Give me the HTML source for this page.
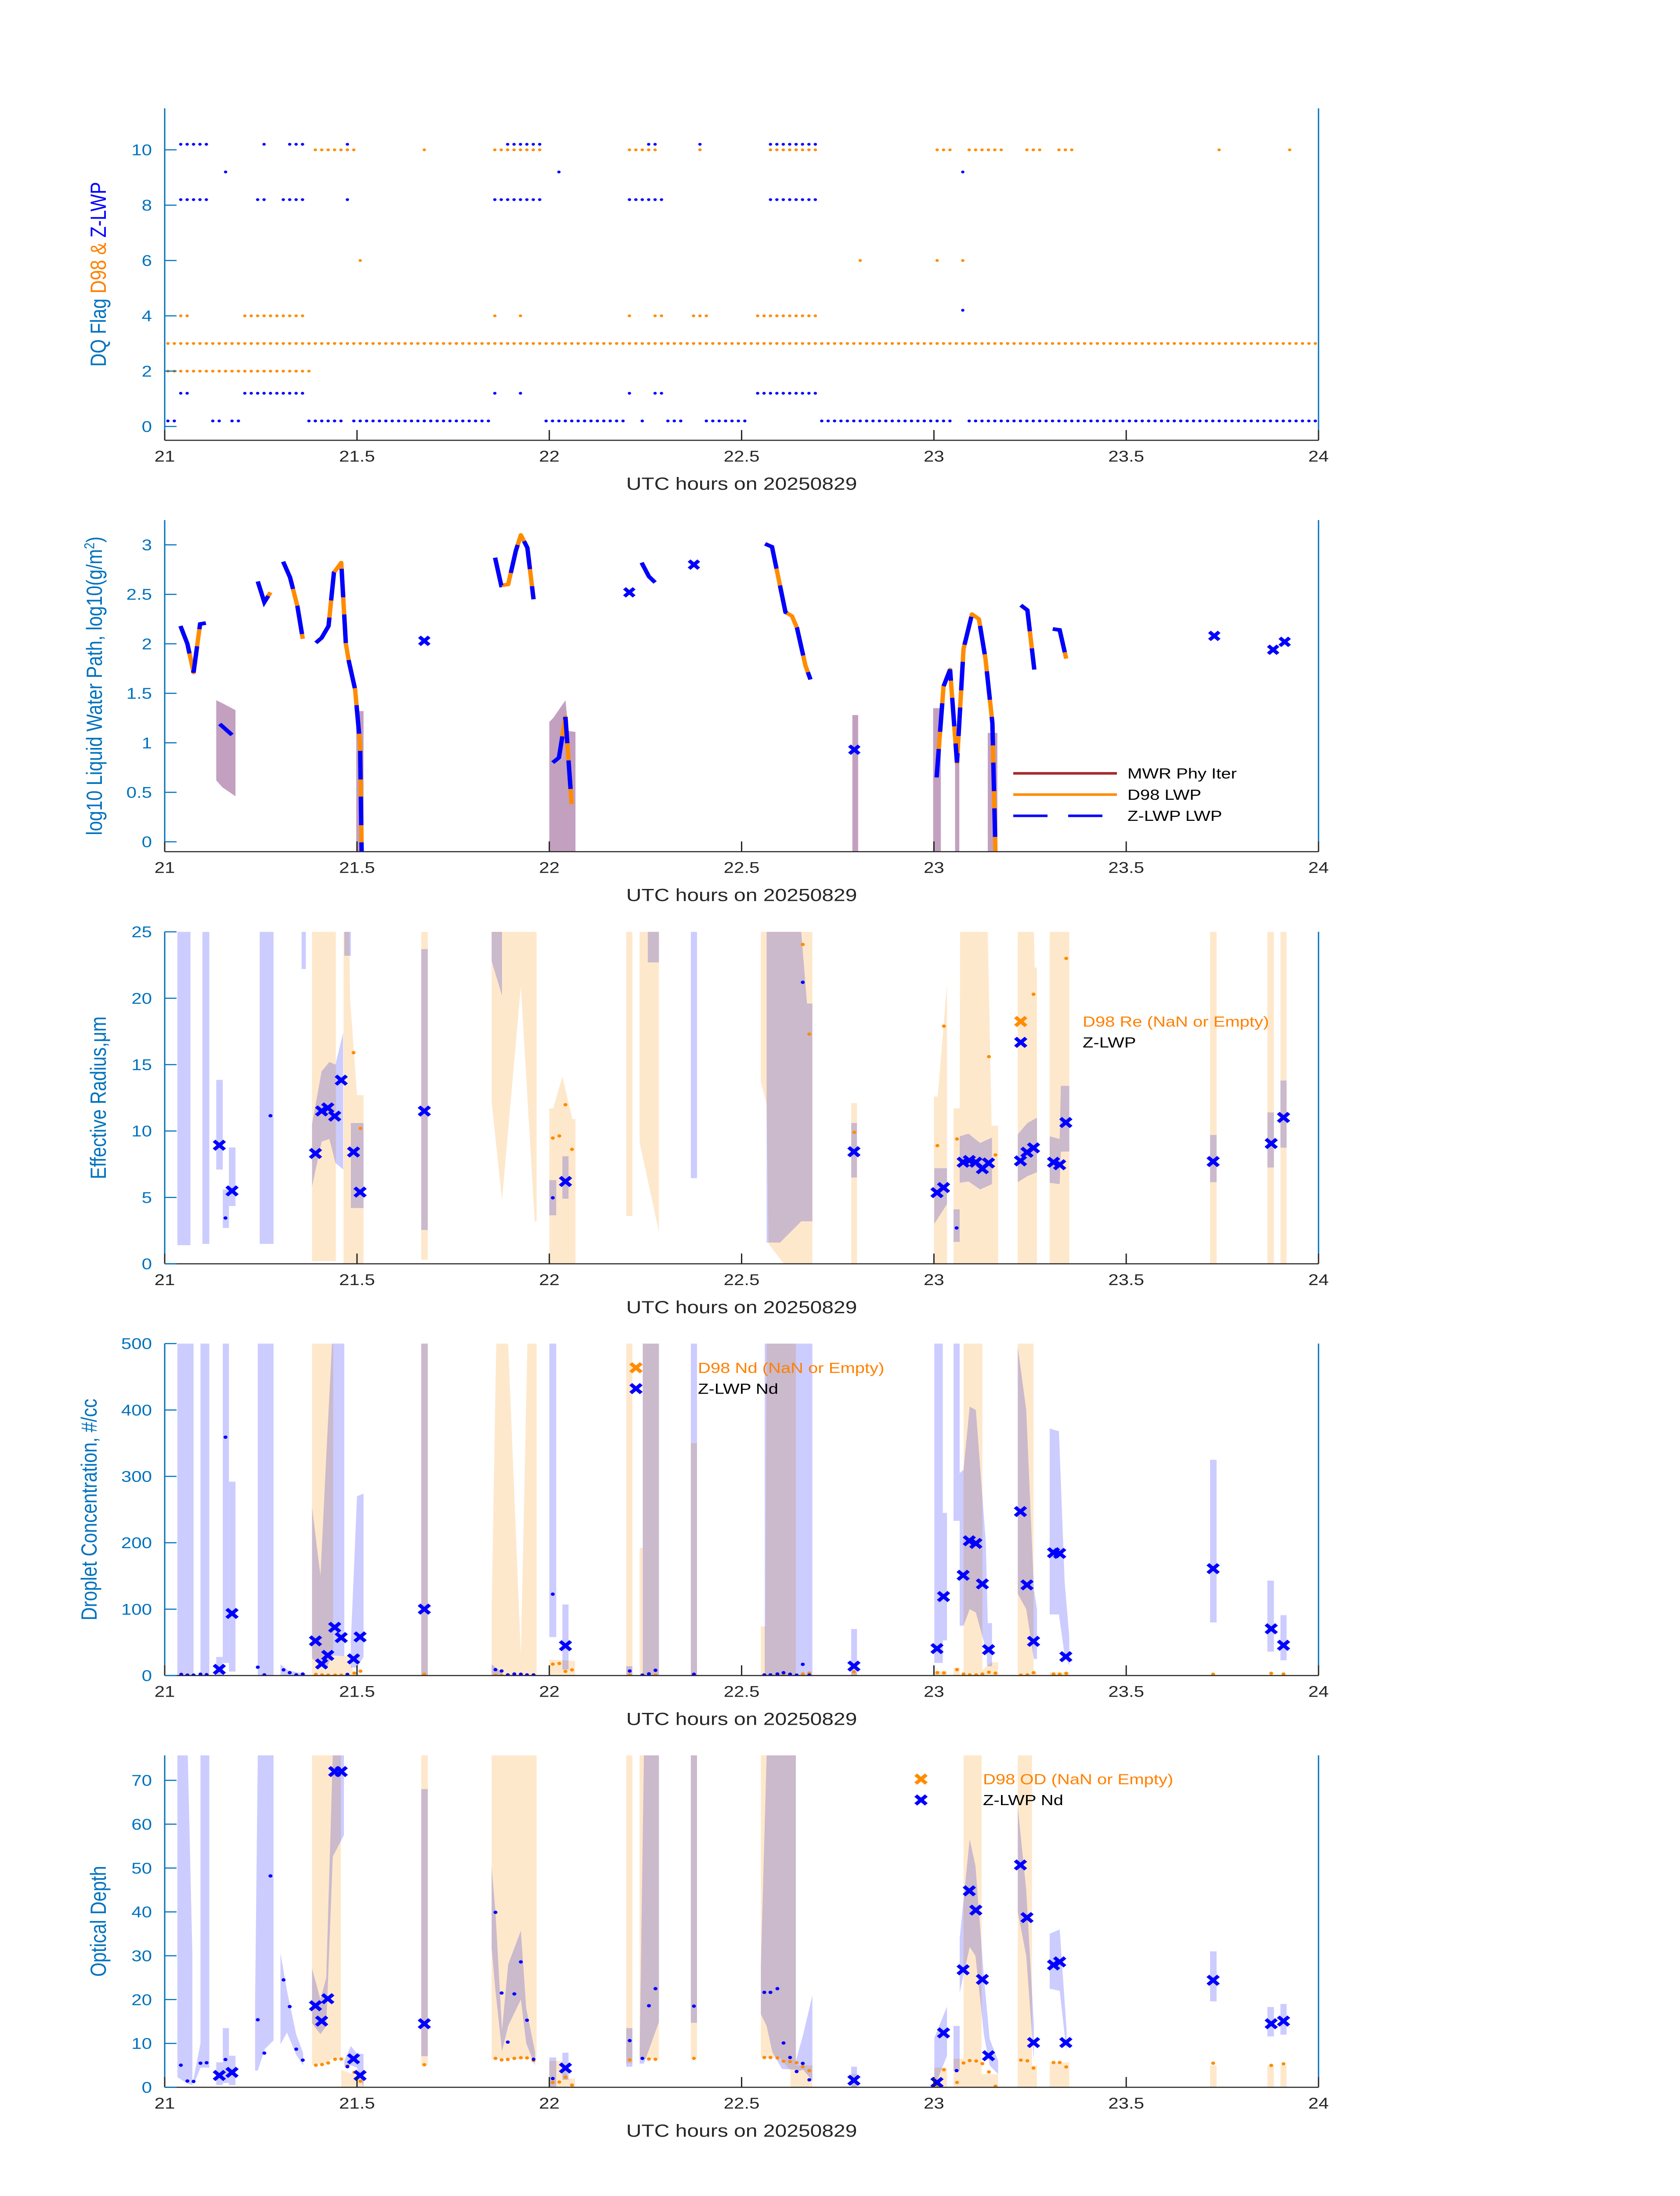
<!DOCTYPE html>
<html><head><meta charset="utf-8"><title>Cloud retrievals 20250829</title>
<style>html,body{margin:0;padding:0;background:#fff;width:100%;height:100%;overflow:hidden}svg{display:block;width:100vw;height:100vh}text{font-family:"Liberation Sans","DejaVu Sans",sans-serif}</style>
</head><body>
<svg id="fig" xmlns="http://www.w3.org/2000/svg" viewBox="0 0 3825 6000" preserveAspectRatio="none"></svg>
<script>
// ---------- data ----------
const xTicks=[21,21.5,22,22.5,23,23.5,24];
const xTickLabels=["21","21.5","22","22.5","23","23.5","24"];
// Panel 1: DQ flag runs [flag, startMinute, endMinute]
const dqD98Runs=[[10,23,29],[10,40,40],[10,51,58],[10,72,76],[10,83,83],[10,94,101],[10,120,122],[10,125,130],[10,134,136],[10,139,141],[10,164,164],[10,175,175],
[6,30,30],[6,108,108],[6,120,120],[6,124,124],
[4,2,3],[4,12,21],[4,51,51],[4,55,55],[4,72,72],[4,76,77],[4,82,84],[4,92,101],
[3,0,179],[2,0,22],[1,180,180]];
const dqZRuns=[[10.2,2,6],[10.2,15,15],[10.2,19,21],[10.2,28,28],[10.2,53,58],[10.2,75,76],[10.2,83,83],[10.2,94,101],
[9.2,9,9],[9.2,61,61],[9.2,124,124],
[8.2,2,6],[8.2,14,15],[8.2,18,21],[8.2,28,28],[8.2,51,58],[8.2,72,77],[8.2,94,101],
[4.2,124,124],
[1.2,2,3],[1.2,12,21],[1.2,51,51],[1.2,55,55],[1.2,72,72],[1.2,76,77],[1.2,92,101],
[0.2,0,1],[0.2,7,8],[0.2,10,11],[0.2,22,27],[0.2,29,50],[0.2,59,71],[0.2,74,74],[0.2,78,80],[0.2,84,90],[0.2,102,122],[0.2,125,180]];
// Panel 2: LWP segments [t,log10 LWP]
const lwpSegments=[
[[21.041,2.18],[21.059,2.0],[21.075,1.71],[21.092,2.2],[21.107,2.21]],
[[21.143,1.19],[21.175,1.08]],
[[21.242,2.63],[21.259,2.42],[21.275,2.52]],
[[21.308,2.83],[21.326,2.67],[21.345,2.38],[21.359,2.05]],
[[21.393,2.01],[21.408,2.06],[21.426,2.18],[21.44,2.72],[21.459,2.82],[21.471,2.0],[21.479,1.82],[21.495,1.54],[21.508,0.98],[21.512,-0.1]],
[[21.859,2.87],[21.875,2.59],[21.893,2.6],[21.913,2.94],[21.926,3.1],[21.943,2.97],[21.959,2.45]],
[[22.009,0.8],[22.025,0.85],[22.042,1.26],[22.058,0.38]],
[[22.24,2.82],[22.259,2.68],[22.275,2.62]],
[[22.561,3.01],[22.579,2.98],[22.614,2.32],[22.631,2.28],[22.644,2.16],[22.666,1.78],[22.679,1.64]],
[[23.007,0.65],[23.025,1.57],[23.042,1.74],[23.06,0.8],[23.077,1.95],[23.099,2.3],[23.117,2.25],[23.134,1.85],[23.152,1.2],[23.16,-0.1]],
[[23.226,2.39],[23.243,2.34],[23.261,1.74]],
[[23.309,2.15],[23.327,2.14],[23.344,1.85]]];
const lwpPoints=[[21.675,2.03],[22.208,2.52],[22.376,2.8],[22.793,0.93],[23.729,2.08],[23.882,1.94],[23.912,2.02]];
const lwpBands=[
[[21.134,0.62,1.43],[21.15,0.55,1.4],[21.184,0.46,1.33]],
[[21.498,-0.1,1.32],[21.517,-0.1,1.32]],
[[22.0,-0.1,1.21],[22.01,-0.1,1.25],[22.042,-0.1,1.43],[22.05,-0.1,1.12],[22.068,-0.1,1.11]],
[[22.788,-0.1,1.28],[22.803,-0.1,1.28]],
[[22.998,-0.1,1.35],[23.018,-0.1,1.35]],
[[23.055,-0.1,1.0],[23.066,-0.1,1.0]],
[[23.14,-0.1,1.1],[23.165,-0.1,1.1]]];
// Panel 3: effective radius
const reOrangeBands=[
[[21.383,0.2,25],[21.445,0.2,25]],
[[21.465,0,25],[21.48,0,25],[21.482,0,20],[21.5,0,12.7],[21.517,0,12.7]],
[[21.667,0.3,25],[21.684,0.3,25]],
[[21.85,12.2,25],[21.877,4.8,25],[21.926,20.9,25],[21.962,3.2,25],[21.967,3.2,25]],
[[22.0,0,11.7],[22.01,0,11.7],[22.034,0,14.1],[22.06,0,10.9],[22.068,0,10.9]],
[[22.2,3.6,25],[22.216,3.6,25]],
[[22.235,9.1,25],[22.285,2.4,25]],
[[22.55,13.7,25],[22.565,12,25],[22.57,1.5,25],[22.61,0,25],[22.684,0,25]],
[[22.785,0,12.1],[22.8,0,12.1]],
[[23.0,0,12.6],[23.01,0,12.6],[23.034,0,21.1]],
[[23.051,0,11.7],[23.067,0,11.7],[23.068,0,25],[23.14,0,25],[23.15,0,10.4],[23.167,0,10.4]],
[[23.218,0,25],[23.26,0,25],[23.262,0,22.3],[23.268,0,22.3]],
[[23.301,0,25],[23.352,0,25]],
[[23.718,0,25],[23.735,0,25]],[[23.867,0,25],[23.884,0,25]],[[23.901,0,25],[23.917,0,25]]];
const reBlueBands=[
[[21.033,1.4,25],[21.067,1.4,25]],
[[21.098,1.5,25],[21.116,1.5,25]],
[[21.134,7.1,13.85],[21.151,7.1,13.85]],
[[21.151,2.7,5.6],[21.167,2.7,5.6]],
[[21.167,4.35,8.76],[21.184,4.35,8.76]],
[[21.247,1.5,25],[21.283,1.5,25]],
[[21.356,22.2,25],[21.367,22.2,25]],
[[21.383,5.8,10.5],[21.408,9.2,14.5],[21.428,9.4,15.2],[21.444,7.6,15.0],[21.464,7.1,17.4]],
[[21.467,23.2,25],[21.484,23.2,25]],
[[21.484,4.2,10.6],[21.517,4.2,10.6]],
[[21.667,2.55,23.7],[21.684,2.55,23.7]],
[[21.85,22.8,25],[21.877,20.2,25]],
[[22.0,3.65,6.3],[22.018,3.65,6.3]],
[[22.034,4.9,8.1],[22.05,4.9,8.1]],
[[22.256,22.7,25],[22.285,22.7,25]],
[[22.368,6.45,25],[22.384,6.45,25]],
[[22.565,1.6,25],[22.6,1.6,25],[22.655,3.2,25],[22.67,3.2,19.6],[22.684,3.2,19.6]],
[[22.785,6.5,10.6],[22.8,6.5,10.6]],
[[23.001,3.0,7.2],[23.034,4.5,7.2]],
[[23.051,1.65,4.1],[23.067,1.65,4.1]],
[[23.067,6.1,9.6],[23.09,6.2,9.8],[23.12,5.6,9.1],[23.151,6.0,9.5]],
[[23.218,6.15,9.75],[23.243,6.6,10.6],[23.268,6.9,11]],
[[23.301,6.1,9.6],[23.327,6.0,9.4],[23.33,8.45,13.4],[23.352,8.45,13.4]],
[[23.718,6.15,9.7],[23.735,6.15,9.7]],
[[23.867,7.25,11.4],[23.884,7.25,11.4]],
[[23.901,8.75,13.8],[23.917,8.75,13.8]]];
const reZMarkers=[[21.142,8.93],[21.175,5.49],[21.392,8.31],[21.408,11.51],[21.424,11.74],[21.442,11.12],[21.459,13.83],[21.491,8.42],[21.508,5.4],[21.675,11.5],[22.042,6.2],
[22.792,8.44],[23.008,5.36],[23.025,5.74],[23.076,7.65],[23.092,7.78],[23.109,7.65],[23.126,7.16],[23.142,7.59],[23.225,7.75],[23.242,8.4],[23.259,8.73],[23.311,7.65],[23.327,7.46],[23.343,10.64],[23.726,7.7],[23.877,9.06],[23.909,11.02]];
const reZDots=[[21.158,3.45],[21.275,11.15],[22.009,4.97],[22.659,21.2],[23.059,2.7]];
const reD98Dots=[[21.491,15.9],[21.509,10.2],[22.009,9.47],[22.026,9.63],[22.042,11.98],[22.059,8.62],[22.659,24.05],[22.676,17.3],[22.793,9.9],[23.009,8.9],[23.026,17.9],[23.06,9.4],[23.143,15.6],[23.16,8.2],[23.259,20.3],[23.344,23.0]];
// Panel 4: droplet concentration
const ndOrangeBands=[
[[21.383,0,500],[21.438,0,500]],
[[21.438,0,29],[21.475,0,29],[21.49,0,8]],
[[21.667,0,500],[21.684,0,500]],
[[21.85,0,99],[21.862,0,500],[21.893,0,500],[21.926,0,31],[21.943,0,500],[21.967,0,500]],
[[22.0,0,24],[22.067,0,22]],
[[22.2,0,500],[22.216,0,500]],
[[22.235,0,192],[22.243,0,192]],
[[22.243,0,500],[22.285,0,500]],
[[22.368,0,350],[22.384,0,350]],
[[22.55,0,74],[22.562,0,74],[22.565,0,500],[22.641,0,500]],
[[22.785,0,5],[22.8,0,5]],[[23.001,0,7],[23.034,0,7]],[[23.051,0,12],[23.067,0,12]],
[[23.077,0,500],[23.126,0,500]],[[23.126,0,8],[23.15,0,20],[23.167,0,20]],
[[23.218,0,500],[23.259,0,500]],[[23.259,0,6],[23.268,0,6]],
[[23.301,0,5],[23.352,0,5]]];
const ndBlueBands=[
[[21.033,0,500],[21.075,0,500]],
[[21.093,0,500],[21.116,0,500]],
[[21.134,0,28],[21.151,0,28]],
[[21.151,19,500],[21.167,19,500]],
[[21.167,6,292],[21.184,6,292]],
[[21.242,0,500],[21.283,0,500]],
[[21.301,0,17],[21.32,0,8],[21.367,0,2]],
[[21.383,26,254],[21.405,15,150],[21.42,10,330],[21.435,30,500],[21.467,29,500]],
[[21.484,12,50],[21.5,12,270],[21.517,28,274]],
[[21.667,0,500],[21.684,0,500]],
[[21.85,0,17],[21.877,0,4]],
[[22.0,58,500],[22.018,58,500]],
[[22.034,9,107],[22.05,9,107]],
[[22.2,0,14],[22.216,0,14]],
[[22.243,0,500],[22.285,0,500]],
[[22.368,0,500],[22.384,0,500]],
[[22.56,0,500],[22.684,0,500]],
[[22.785,0,70],[22.8,0,70]],
[[23.001,19,500],[23.023,19,500]],
[[23.023,53,245],[23.034,53,245]],
[[23.051,233,500],[23.067,233,500]],
[[23.067,75,305],[23.077,75,310],[23.093,100,405],[23.109,95,400],[23.135,40,200],[23.14,20,80]],
[[23.138,14,79],[23.151,14,79]],
[[23.218,123,495],[23.24,100,400],[23.26,25,130],[23.268,25,100]],
[[23.301,92,372],[23.325,92,368],[23.34,30,140],[23.352,15,58]],
[[23.718,80,325],[23.735,80,325]],
[[23.867,36,143],[23.884,36,143]],
[[23.901,23,91],[23.917,23,91]]];
const ndZMarkers=[[21.142,9.3],[21.175,93.5],[21.392,52.2],[21.408,17.5],[21.424,30.4],[21.442,72.7],[21.459,57.2],[21.491,25.1],[21.508,58.2],[21.675,100],[22.042,45],
[22.792,14.2],[23.008,40.6],[23.025,119],[23.076,151],[23.092,203],[23.109,199],[23.126,138],[23.142,39],[23.225,247],[23.242,136.5],[23.259,51.5],[23.311,185],[23.327,184],[23.343,28.4],[23.726,161],[23.877,70.4],[23.909,45.6]];
const ndZDots=[[21.043,1.7],[21.059,0.7],[21.075,0.7],[21.093,2],[21.109,1.3],[21.158,359],[21.242,12.6],[21.259,1],[21.309,8.6],[21.325,4.3],[21.342,1],[21.359,2.3],[21.475,1.7],[21.86,8.9],[21.876,6.9],[21.892,1],[21.909,2.3],[21.926,2],[21.942,1],[21.959,1],[22.009,122.6],[22.209,6.9],[22.242,0.7],[22.259,2.6],[22.276,7.9],[22.376,2],[22.559,1],[22.575,1],[22.593,2.3],[22.609,4.3],[22.626,2],[22.643,0.7],[22.659,16.9],[22.676,0.7]];
const ndD98Dots=[[21.393,1.7],[21.409,1],[21.425,0.7],[21.443,0.7],[21.459,0.7],[21.493,3.6],[21.509,6.6],[21.675,2],[21.86,0.3],[21.876,0.3],[21.909,0.7],[22.009,17.2],[22.026,18.2],[22.042,6.3],[22.059,8.6],[22.209,0.7],[22.276,0.7],[22.376,0.7],[22.609,0.3],[22.659,2.3],[22.676,3.6],[22.792,5.6],[23.009,4.3],[23.026,4],[23.06,8.9],[23.077,2.3],[23.093,1],[23.11,1],[23.126,2.3],[23.143,5],[23.16,3.6],[23.226,0.7],[23.243,1],[23.259,4.3],[23.311,2.3],[23.327,2],[23.344,3.3],[23.726,2],[23.877,3.3],[23.909,2.3]];
// Panel 5: optical depth
const odOrangeBands=[
[[21.383,5,75.7],[21.40,5.3,75.7],[21.42,5.5,75.7],[21.435,6.5,75.7],[21.458,6.5,75.7]],
[[21.459,0,4],[21.517,0,2]],
[[21.667,5,75.7],[21.684,5,75.7]],
[[21.85,6.5,75.7],[21.967,6.5,75.7]],
[[22.0,0,6],[22.034,0,6],[22.05,0,2],[22.067,0,2]],
[[22.2,5.5,75.7],[22.216,5.5,75.7]],
[[22.235,6.5,75.7],[22.285,6.5,75.7]],
[[22.368,6.5,75.7],[22.384,6.5,75.7]],
[[22.55,6.8,75.7],[22.6,6.8,75.7],[22.62,4.5,75.7],[22.641,3,75.7]],
[[22.627,0,5],[22.684,0,5]],
[[22.785,0,3],[22.8,0,3]],[[23.001,0,4.5],[23.034,0,4.5]],[[23.051,0,6.5],[23.077,0,6.5]],
[[23.077,0,75.7],[23.124,0,75.7]],[[23.124,0,3],[23.167,0,3]],
[[23.218,0,75.7],[23.255,0,75.7]],[[23.255,0,5],[23.268,0,5]],
[[23.301,0,5.7],[23.352,0,5.7]],
[[23.718,0,5],[23.735,0,5]],[[23.867,0,5],[23.884,0,5]],[[23.901,0,5],[23.917,0,5]]];
const odBlueBands=[
[[21.033,2.3,75.7],[21.06,0.8,75.7],[21.072,0.5,30]],
[[21.075,0.5,2],[21.093,4.5,10]],
[[21.093,4.5,75.7],[21.116,4.5,75.7]],
[[21.134,0.5,5.7],[21.151,0.5,5.7]],
[[21.151,1,13.5],[21.167,1,13.5]],
[[21.167,0.5,7.2],[21.184,0.5,7.2]],
[[21.235,3.8,19.4],[21.242,3.8,75.7],[21.26,8.7,75.7],[21.283,10.7,75.7]],
[[21.301,9.8,30.6],[21.318,12.5,22],[21.342,7.4,12],[21.36,5,7.8]],
[[21.383,14.6,27.1],[21.405,12.1,20],[21.42,14,25],[21.437,52.6,75.7],[21.466,57.5,75.7]],
[[21.467,4.7,6],[21.484,5,9.4],[21.5,4.5,7.7],[21.517,0,7.6]],
[[21.667,7.1,68],[21.684,7.1,68]],
[[21.85,31.8,50.3],[21.86,22,40],[21.877,8.2,13],[21.893,14,28],[21.926,20,35.7],[21.94,10,18],[21.963,5,8]],
[[22.0,0,6.8],[22.018,0,6.8]],
[[22.034,1.7,7.9],[22.05,1.7,7.9]],
[[22.2,4.7,13.5],[22.216,4.7,13.5]],
[[22.235,5.4,8.4],[22.246,5.4,75.7],[22.285,14.9,75.7]],
[[22.368,14.7,75.7],[22.384,14.7,75.7]],
[[22.55,16.7,27.3],[22.565,14,75.7],[22.58,8,75.7],[22.605,4.2,75.7],[22.641,4,75.7]],
[[22.641,3.5,6],[22.66,4,12],[22.684,1.5,21]],
[[22.785,0,4.7],[22.8,0,4.7]],
[[23.001,0,11.3],[23.034,7.2,18.4]],
[[23.051,3.7,14],[23.067,3.7,14]],
[[23.067,21.6,34],[23.093,32,56.6],[23.108,30,50.5],[23.13,12,25],[23.145,5,11],[23.167,3,6]],
[[23.218,40,64],[23.24,30,45],[23.26,6,14]],
[[23.301,22.5,35],[23.327,22,36],[23.345,8,13]],
[[23.718,19.6,31],[23.735,19.6,31]],
[[23.867,11.6,18.3],[23.884,11.6,18.3]],
[[23.901,12,19],[23.917,12,19]]];
const odZMarkers=[[21.142,2.7],[21.175,3.4],[21.392,18.6],[21.408,15.1],[21.424,20.2],[21.442,72],[21.459,72],[21.491,6.5],[21.508,2.7],[21.675,14.5],[22.042,4.4],
[22.792,1.6],[23.008,1.1],[23.025,12.4],[23.076,26.8],[23.092,44.8],[23.109,40.4],[23.126,24.6],[23.142,7.2],[23.225,50.7],[23.242,38.7],[23.259,10.2],[23.311,27.9],[23.327,28.6],[23.343,10.2],[23.726,24.4],[23.877,14.5],[23.909,15.1]];
const odZDots=[[21.042,5.05],[21.059,1.44],[21.075,1.34],[21.093,5.5],[21.109,5.6],[21.158,6.34],[21.242,15.4],[21.259,7.8],[21.275,48.2],[21.309,24.5],[21.325,18.4],[21.342,8.7],[21.359,6.2],[21.475,4.7],[21.86,39.9],[21.876,21.5],[21.892,10.3],[21.909,21.3],[21.926,28.6],[21.942,15.3],[21.959,6.4],[22.009,2.0],[22.209,10.65],[22.242,6.6],[22.259,18.6],[22.276,22.5],[22.376,18.5],[22.559,21.65],[22.575,21.65],[22.593,22.5],[22.609,10.1],[22.626,6.8],[22.643,3.6],[22.659,5.45],[22.676,1.7],[23.059,3.8]];
const odD98Dots=[[21.393,5.05],[21.409,5.2],[21.425,5.55],[21.443,6.4],[21.459,6.45],[21.475,4.9],[21.493,3.4],[21.509,1.4],[21.675,5.15],[21.86,6.6],[21.876,6.25],[21.892,6.35],[21.909,6.6],[21.926,6.75],[21.942,6.7],[21.959,6.1],[22.009,1.1],[22.026,1.2],[22.042,2.3],[22.059,0.5],[22.209,6.25],[22.259,6.45],[22.276,6.4],[22.376,6.6],[22.559,6.8],[22.575,6.8],[22.593,6.7],[22.609,5.95],[22.626,5.85],[22.643,5.6],[22.659,4.7],[22.676,3.8],[23.009,0.5],[23.026,4.0],[23.06,1.1],[23.077,5.55],[23.093,6.1],[23.11,6.0],[23.126,5.4],[23.143,3.5],[23.16,0.25],[23.226,6.2],[23.243,6.05],[23.259,4.4],[23.311,5.65],[23.327,5.65],[23.344,4.65],[23.726,5.5],[23.877,5.0],[23.909,5.35]];

// ---------- rendering ----------
const NS="http://www.w3.org/2000/svg";
const svg=document.getElementById('fig');
const X0=375,X1=3002,T0=21,T1=24;
const BLUE_AX="#0072BD",ORANGE="#ff8000",BLUE="#0000ff",DARK="#262626";
function mk(tag,attrs,parent){const e=document.createElementNS(NS,tag);for(const k in attrs)e.setAttribute(k,attrs[k]);(parent||svg).appendChild(e);return e;}
function xs(t){return X0+(t-T0)/(T1-T0)*(X1-X0);}
function panel(name,top,bot,ymin,ymax){
  const g=mk('g',{});
  
  
  const p={g,top,bot,ymin,ymax,y:v=>bot-(v-ymin)/(ymax-ymin)*(bot-top)};
  const cid='clip-'+name;
  const cp=mk('clipPath',{id:cid},g);mk('rect',{x:X0,y:top,width:X1-X0,height:bot-top},cp);
  p.plot=mk('g',{'clip-path':'url(#'+cid+')'},g);
  return p;
}
function axes(p,yticks,ylabels,xlabel){
  const ax=mk('g',{},p.g);
  
  
  mk('line',{x1:X0,y1:p.top,x2:X0,y2:p.bot,stroke:BLUE_AX,'stroke-width':3},ax);
  mk('line',{x1:X1,y1:p.top,x2:X1,y2:p.bot,stroke:BLUE_AX,'stroke-width':3},ax);
  mk('line',{x1:X0,y1:p.bot,x2:X1,y2:p.bot,stroke:DARK,'stroke-width':3},ax);
  xTicks.forEach((t,i)=>{const x=xs(t);
    mk('line',{x1:x,y1:p.bot,x2:x,y2:p.bot-28,stroke:DARK,'stroke-width':3},ax);
    const tx=mk('text',{x:x,y:p.bot+58,'font-size':42,'text-anchor':'middle',fill:DARK},ax);tx.textContent=xTickLabels[i];
    
    });
  yticks.forEach((v,i)=>{const y=p.y(v);
    mk('line',{x1:X0,y1:y,x2:X0+27,y2:y,stroke:BLUE_AX,'stroke-width':3},ax);
    const tx=mk('text',{x:346,y:y+15,'font-size':42,'text-anchor':'end',fill:BLUE_AX},ax);tx.textContent=ylabels[i];
    
    });
  const xl=mk('text',{x:(X0+X1)/2,y:p.bot+135,'font-size':48,'text-anchor':'middle',fill:DARK},ax);xl.textContent=xlabel;
  
  
}
function ylab(p,x,parts){
  const cy=(p.top+p.bot)/2;
  const t=mk('text',{x:x,y:cy,'font-size':50,'text-anchor':'middle',transform:`rotate(-90 ${x} ${cy})`},p.g);
  
  
  parts.forEach(([s,c,sup])=>{const ts=mk('tspan',{fill:c},t);if(sup){ts.setAttribute('baseline-shift','super');ts.setAttribute('font-size',32);}ts.textContent=s;});
}
function band(p,pts,fill,parent,name){
  let d='M'+pts.map(q=>xs(q[0])+','+p.y(q[2])).join('L')+'L'+pts.slice().reverse().map(q=>xs(q[0])+','+p.y(q[1])).join('L')+'Z';
  const e=mk('path',{d:d,fill:fill},parent);
  
  
}
function xmark(p,t,v,color,parent,s){s=s||12;const x=xs(t),y=p.y(v);
  const e=mk('path',{d:`M${x-s},${y-s}L${x+s},${y+s}M${x-s},${y+s}L${x+s},${y-s}`,stroke:color,'stroke-width':9,fill:'none'},parent);
  
  }
function dot(p,t,v,color,parent,r){const e=mk('circle',{cx:xs(t),cy:p.y(v),r:r||4.5,fill:color},parent);
  
  }
function layered(p,orangeBands,blueBands,zMarkers,zDots,dDots){
  const lo=mk('g',{},p.plot);
  orangeBands.forEach(b=>band(p,b,'#fee8cc',lo,'d98-uncertainty-band'));
  const lb=mk('g',{style:'mix-blend-mode:multiply'},p.plot);
  blueBands.forEach(b=>band(p,b,'#ccccff',lb,'zlwp-uncertainty-band'));
  const lm=mk('g',{},p.plot);
  dDots.forEach(q=>dot(p,q[0],q[1],'#ff8c00',lm));
  zDots.forEach(q=>dot(p,q[0],q[1],BLUE,lm));
  zMarkers.forEach(q=>xmark(p,q[0],q[1],BLUE,lm));
}
function legend(p,x,y,rows){
  const g=mk('g',{},p.g);
  
  
  rows.forEach((r,i)=>{const yy=y+i*57;
    const mx=x-141;
    const s=12;mk('path',{d:`M${mx-s},${yy-s}L${mx+s},${yy+s}M${mx-s},${yy+s}L${mx+s},${yy-s}`,stroke:r[1],'stroke-width':9},g);
    const t=mk('text',{x:x,y:yy+14,'font-size':40,fill:r[2]},g);t.textContent=r[0];
    
    });
}
const XL="UTC hours on 20250829";

// Panel 1
const p1=panel('dq-flag-panel',296,1203,-0.5,11.5);
axes(p1,[0,2,4,6,8,10],["0","2","4","6","8","10"],XL);
ylab(p1,241,[["DQ Flag  ",BLUE_AX],["D98 & ",ORANGE],[" Z-LWP",BLUE]]);
dqD98Runs.forEach(r=>{for(let m=r[1];m<=r[2];m++)dot(p1,T0+(m+0.5)/60,r[0],'#ff8c00',p1.plot,3.8);});
dqZRuns.forEach(r=>{for(let m=r[1];m<=r[2];m++)dot(p1,T0+(m+0.5)/60,r[0],BLUE,p1.plot,3.8);});

// Panel 2
const p2=panel('lwp-panel',1421,2327,-0.1,3.25);
axes(p2,[0,0.5,1,1.5,2,2.5,3],["0","0.5","1","1.5","2","2.5","3"],XL);
ylab(p2,232,[["log10 Liquid Water Path, log10(g/m",BLUE_AX],["2",BLUE_AX,true],[")",BLUE_AX]]);
lwpBands.forEach(b=>band(p2,b,'#c3a0c0',p2.plot,'lwp-uncertainty-band'));
lwpSegments.forEach(s=>{const d='M'+s.map(q=>xs(q[0])+','+p2.y(q[1])).join('L');
  const e=mk('path',{d:d,stroke:'#ff8c00','stroke-width':10,fill:'none','stroke-linejoin':'round'},p2.plot);
  
  });
lwpSegments.forEach(s=>{const d='M'+s.map(q=>xs(q[0])+','+p2.y(q[1])).join('L');
  const e=mk('path',{d:d,stroke:BLUE,'stroke-width':10,fill:'none','stroke-dasharray':'78 47'},p2.plot);
  
  });
lwpPoints.forEach(q=>xmark(p2,q[0],q[1],BLUE,p2.plot,11));
(function(){const g=mk('g',{},p2.g);
  
  
  const rows=[["MWR Phy Iter","#a52a2a",null],["D98 LWP","#ff8c00",null],["Z-LWP LWP",BLUE,"78 47"]];
  rows.forEach((r,i)=>{const yy=2113+i*58;
    const a={x1:2307,y1:yy,x2:2543,y2:yy,stroke:r[1],'stroke-width':7};if(r[2])a['stroke-dasharray']=r[2];
    mk('line',a,g);
    const t=mk('text',{x:2567,y:yy+14,'font-size':40,fill:'#000'},g);t.textContent=r[0];
    
    });})();

// Panel 3
const p3=panel('effective-radius-panel',2546,3453,0,25);
axes(p3,[0,5,10,15,20,25],["0","5","10","15","20","25"],XL);
ylab(p3,241,[["Effective Radius,",BLUE_AX],["\u03bc",BLUE_AX],["m",BLUE_AX]]);
layered(p3,reOrangeBands,reBlueBands,reZMarkers,reZDots,reD98Dots);
legend(p3,2465,2791,[["D98 Re (NaN or Empty)",'#ff8c00',ORANGE],["Z-LWP",BLUE,'#000']]);

// Panel 4
const p4=panel('droplet-concentration-panel',3671,4578,0,500);
axes(p4,[0,100,200,300,400,500],["0","100","200","300","400","500"],XL);
ylab(p4,220,[["Droplet Concentration, #/cc",BLUE_AX]]);
layered(p4,ndOrangeBands,ndBlueBands,ndZMarkers,ndZDots,ndD98Dots);
legend(p4,1589,3737,[["D98 Nd (NaN or Empty)",'#ff8c00',ORANGE],["Z-LWP Nd",BLUE,'#000']]);

// Panel 5
const p5=panel('optical-depth-panel',4796,5703,0,75.7);
axes(p5,[0,10,20,30,40,50,60,70],["0","10","20","30","40","50","60","70"],XL);
ylab(p5,241,[["Optical Depth",BLUE_AX]]);
layered(p5,odOrangeBands,odBlueBands,odZMarkers,odZDots,odD98Dots);
legend(p5,2238,4861,[["D98 OD (NaN or Empty)",'#ff8c00',ORANGE],["Z-LWP Nd",BLUE,'#000']]);
</script>
</body></html>
